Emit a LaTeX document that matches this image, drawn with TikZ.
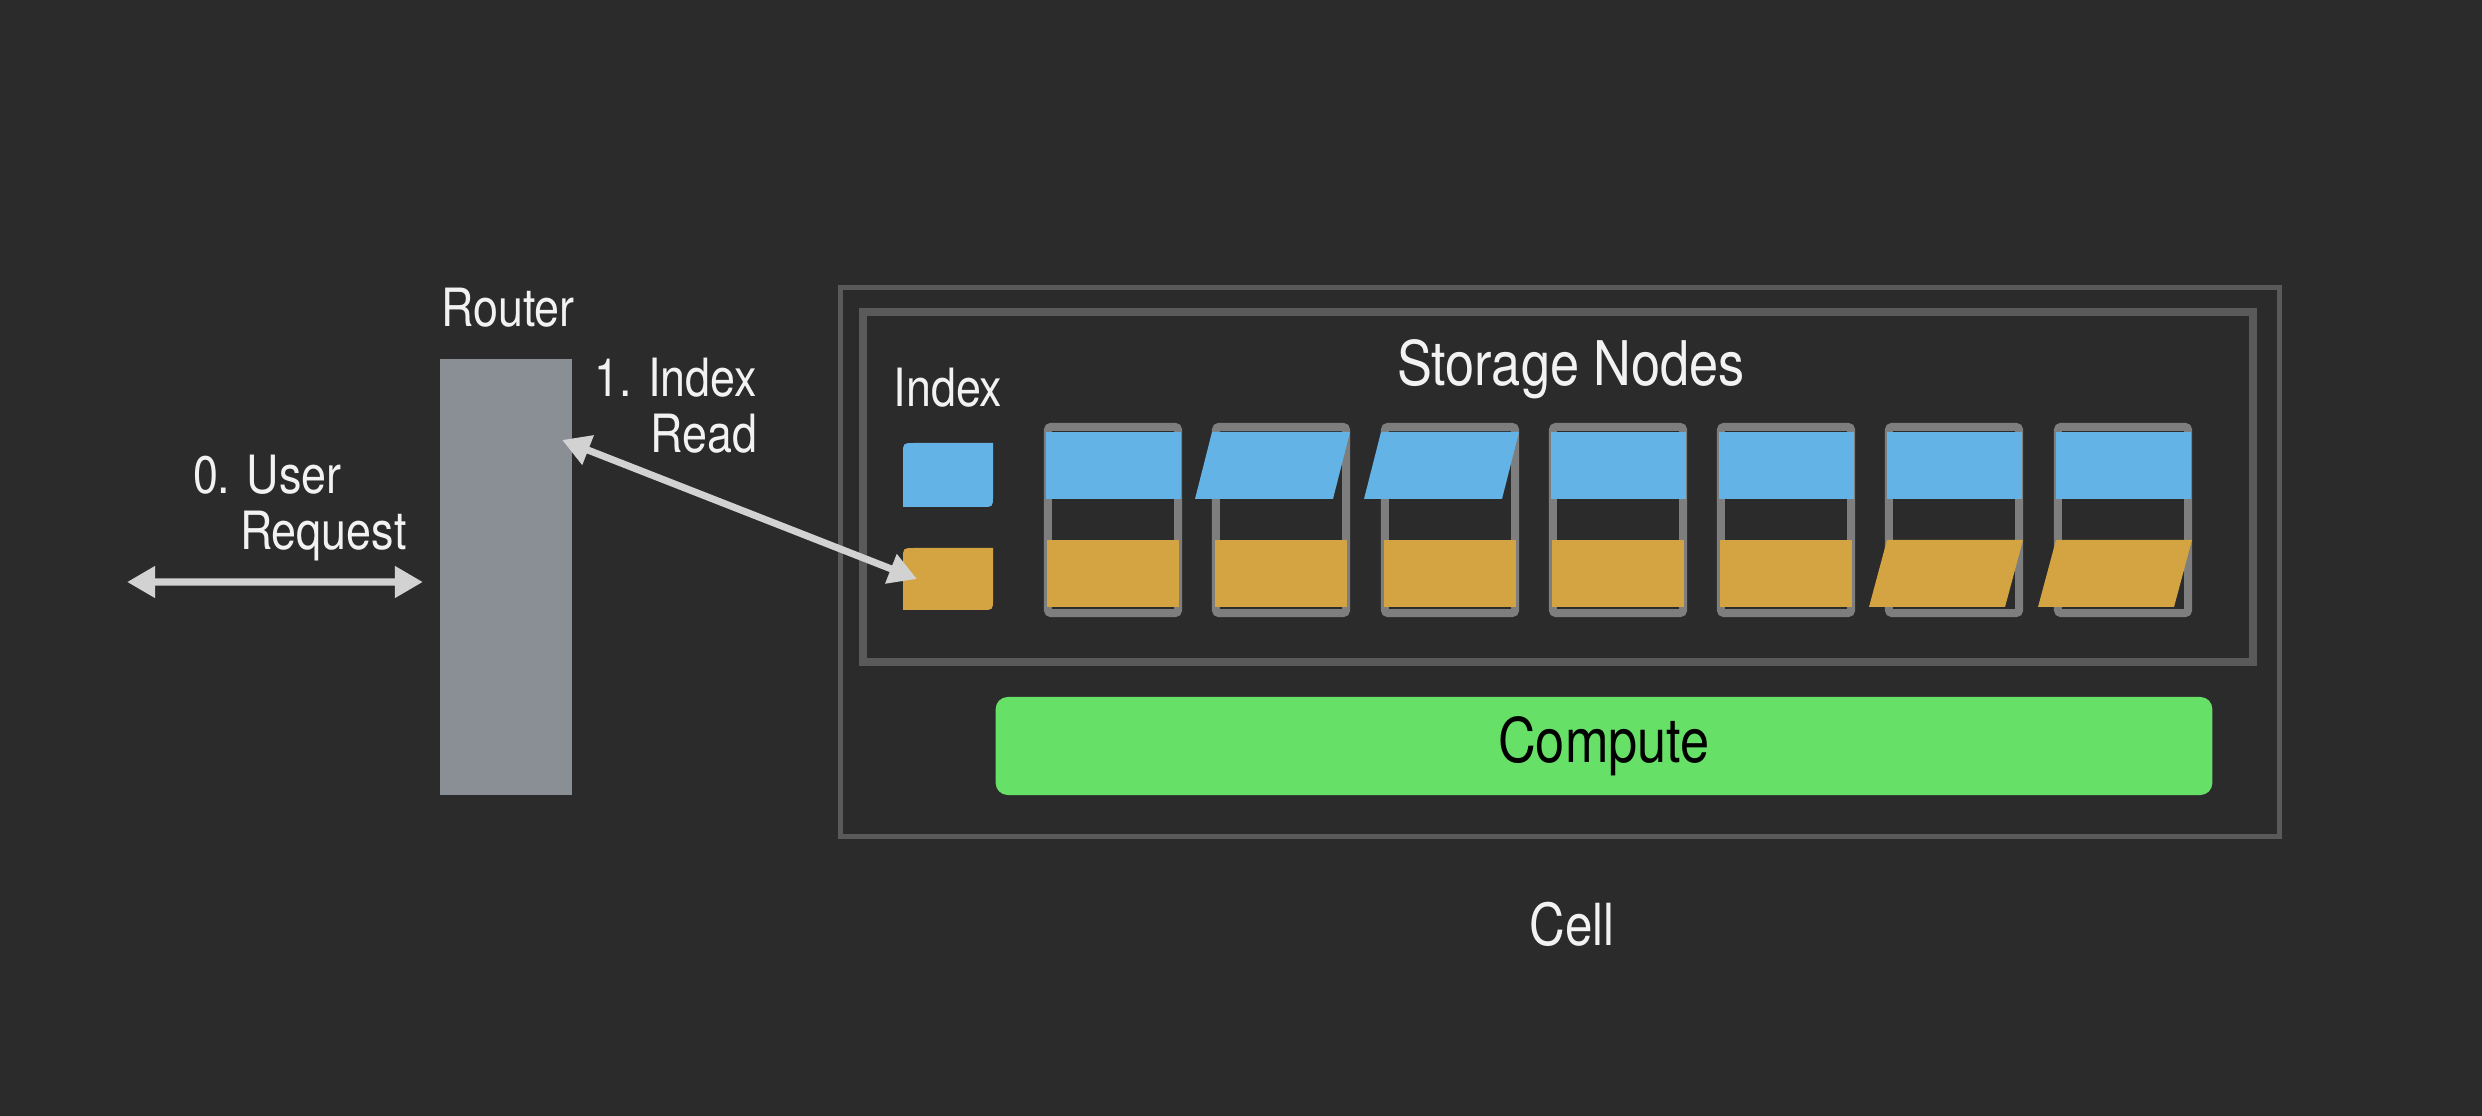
\documentclass[tikz,border=0pt]{standalone}
\usepackage{fontspec}
\setmainfont{TeX Gyre Heros}[FakeStretch=0.85]
\usetikzlibrary{arrows.meta}
\definecolor{bgdark}{HTML}{2B2B2B}
\definecolor{boxgray}{HTML}{5A5A5A}
\definecolor{framegray}{HTML}{7E7E7E}
\definecolor{routergray}{HTML}{8A8F96}
\definecolor{arrowgray}{HTML}{D2D2D2}
\definecolor{textwhite}{HTML}{F2F2F2}
\definecolor{blockblue}{HTML}{63B3E6}
\definecolor{blockgold}{HTML}{D4A443}
\definecolor{computegreen}{HTML}{66E066}
\newcommand{\lblfont}{\fontsize{15}{16.2}\selectfont}
\newcommand{\bigfont}{\fontsize{17.5}{19}\selectfont}
\newcommand{\cellfont}{\fontsize{16.5}{18}\selectfont}

\begin{document}
\begin{tikzpicture}[x={(0.01cm,0cm)},y={(0cm,-0.01cm)},
  every node/.style={inner sep=0pt, outer sep=0pt, text=textwhite},
  lbl/.style={font=\lblfont},
  conn/.style={draw=arrowgray, line width=0.07cm,
    {Triangle[length=0.28cm,width=0.30cm]}-{Triangle[length=0.28cm,width=0.30cm]}},
  snframe/.style={draw=framegray, line width=0.08cm, minimum width=1.30cm,
    minimum height=1.86cm, rounded corners=0.03cm},
  compute/.style={fill=computegreen, text=black, font=\bigfont, minimum width=12.16cm,
    minimum height=0.98cm, rounded corners=0.12cm}]

\fill[bgdark] (0,0) rectangle (2482,1116);

\node[draw=boxgray, line width=0.05cm, minimum width=14.39cm, minimum height=5.48cm] (cell) at (1560,562) {};
\node[draw=boxgray, line width=0.08cm, minimum width=13.90cm, minimum height=3.50cm] (storage) at (1558,487) {};

\node[fill=routergray, minimum width=1.32cm, minimum height=4.36cm] (router) at (506,577) {};
\node[lbl, anchor=base] (routerlbl) at (508,327) {Router};

\node[lbl, anchor=base] (idxlbl) at (948,407) {Index};
\node[minimum width=0.90cm, minimum height=0.64cm] (idxb) at (948,475) {};
\node[minimum width=0.90cm, minimum height=0.62cm] (idxo) at (948,579) {};
\fill[blockblue] (903,507) -- (903,454) .. controls (903,443) .. (914,443) -- (993,443)
  -- (993,496) .. controls (993,507) .. (982,507) -- cycle;
\fill[blockgold] (903,610) -- (903,559) .. controls (903,548) .. (914,548) -- (993,548)
  -- (993,599) .. controls (993,610) .. (982,610) -- cycle;

\node[font=\bigfont, anchor=base] (snlbl) at (1571,386) {Storage Nodes};

\node[snframe] (sn1) at (1113,520) {};
\node[snframe] (sn2) at (1281,520) {};
\node[snframe] (sn3) at (1450,520) {};
\node[snframe] (sn4) at (1618,520) {};
\node[snframe] (sn5) at (1786,520) {};
\node[snframe] (sn6) at (1954,520) {};
\node[snframe] (sn7) at (2123,520) {};

\fill[blockblue] (1046,432) rectangle (1181,499);
\fill[blockblue] (1212,432) -- (1350,432) -- (1333,499) -- (1195,499) -- cycle;
\fill[blockblue] (1381,432) -- (1519,432) -- (1502,499) -- (1364,499) -- cycle;
\fill[blockblue] (1551,432) rectangle (1686,499);
\fill[blockblue] (1719,432) rectangle (1854,499);
\fill[blockblue] (1887,432) rectangle (2022,499);
\fill[blockblue] (2056,432) rectangle (2191,499);

\fill[blockgold] (1047,540) rectangle (1179,607);
\fill[blockgold] (1215,540) rectangle (1347,607);
\fill[blockgold] (1384,540) rectangle (1516,607);
\fill[blockgold] (1552,540) rectangle (1684,607);
\fill[blockgold] (1720,540) rectangle (1852,607);
\fill[blockgold] (1887,540) -- (2023,540) -- (2005,607) -- (1869,607) -- cycle;
\fill[blockgold] (2056,540) -- (2192,540) -- (2174,607) -- (2038,607) -- cycle;

\node[compute] (compute) at (1604,746) {Compute};
\node[font=\cellfont, anchor=base] (celllbl) at (1572,945) {Cell};

\coordinate (user) at (127,582);
\draw[conn, shorten >=0.17cm] (user) -- ([yshift=-0.05cm]router.west);
\node[lbl, align=left, anchor=base west] (userlbl) at (193,550) {0. User\\\hspace*{0.47cm}Request};

\draw[conn] ([xshift=-0.10cm,yshift=1.37cm]router.east) -- ([xshift=0.14cm]idxo.west);
\node[lbl, align=right, anchor=base east] (readlbl) at (757,453) {1. Index\\Read};
\end{tikzpicture}
\end{document}
